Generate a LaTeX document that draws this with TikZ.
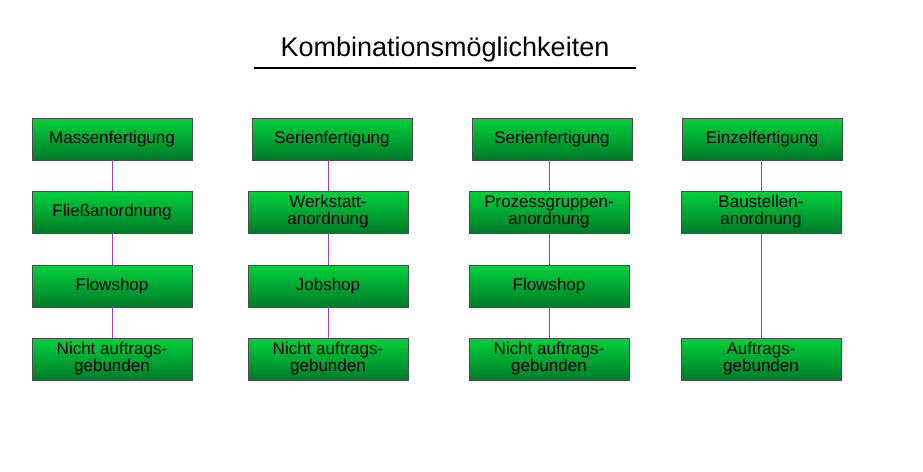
\documentclass[tikz,border=0pt]{standalone}
\usepackage{fontspec}
\setmainfont{Liberation Sans}
\definecolor{gtop}{HTML}{00D23C}
\definecolor{gbot}{HTML}{007A2A}
\definecolor{lnk}{HTML}{9A3FD0}
\begin{document}
\begin{tikzpicture}[x=1pt,y=-1pt,
  box/.style={draw=black!70, top color=gtop, bottom color=gbot, minimum width=160pt, minimum height=42pt, inner sep=1pt, align=center, font=\fontsize{17}{17}\selectfont},
  link/.style={draw=lnk, line width=0.9pt}]
\useasboundingbox (0,0) rectangle (923,471);
\fill[white] (0,0) rectangle (923,471);
\node[font=\fontsize{27}{30}\selectfont] (title) at (445,50) {Kombinationsmöglichkeiten};
\draw[line width=2pt] (254,68) -- (636,68);
% column 1
\node[box] (a1) at (112,139) {Massenfertigung};
\node[box] (a2) at (112,212) {Fließanordnung};
\node[box] (a3) at (112,286) {Flowshop};
\node[box] (a4) at (112,359) {Nicht auftrags-\\gebunden};
% column 2
\node[box] (b1) at (332,139) {Serienfertigung};
\node[box] (b2) at (328,212) {Werkstatt-\\anordnung};
\node[box] (b3) at (328,286) {Jobshop};
\node[box] (b4) at (328,359) {Nicht auftrags-\\gebunden};
% column 3
\node[box] (c1) at (552,139) {Serienfertigung};
\node[box] (c2) at (549,212) {Prozessgruppen-\\anordnung};
\node[box] (c3) at (549,286) {Flowshop};
\node[box] (c4) at (549,359) {Nicht auftrags-\\gebunden};
% column 4
\node[box] (d1) at (762,139) {Einzelfertigung};
\node[box] (d2) at (761,212) {Baustellen-\\anordnung};
\node[box] (d4) at (761,359) {Auftrags-\\gebunden};
\draw[link] (a1.south) -- (a2.north) (a2.south) -- (a3.north) (a3.south) -- (a4.north);
\draw[link] (b1.south -| b2.north) -- (b2.north) (b2.south) -- (b3.north) (b3.south) -- (b4.north);
\draw[link] (c1.south -| c2.north) -- (c2.north) (c2.south) -- (c3.north) (c3.south) -- (c4.north);
\draw[link] (d1.south -| d2.north) -- (d2.north) (d2.south) -- (d4.north);
\end{tikzpicture}
\end{document}
